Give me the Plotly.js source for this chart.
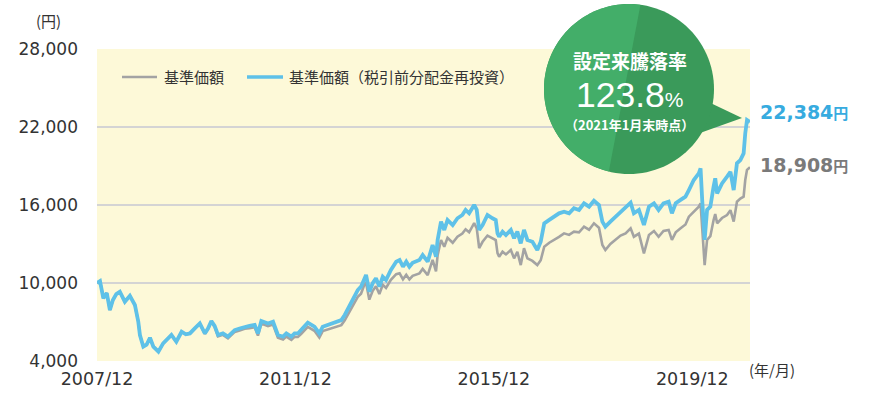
<!DOCTYPE html>
<html>
<head>
<meta charset="utf-8">
<script src="https://cdn.plot.ly/plotly-3.0.1.min.js"></script>
<style>
  html, body { margin: 0; padding: 0; background: #ffffff; }
  #chart { width: 869px; height: 397px; }
</style>
</head>
<body>
<div id="chart"></div>
<script>
// ---- Data ----
const dates = [
  '2007-12-01','2007-12-23','2008-01-17','2008-02-11','2008-03-05','2008-03-27','2008-04-21','2008-05-17','2008-06-23','2008-07-30',
  '2008-09-05','2008-09-30','2008-10-12','2008-11-06','2008-11-30','2008-12-25','2009-01-19','2009-02-25','2009-04-01','2009-05-01',
  '2009-06-01','2009-07-07','2009-08-15','2009-09-15','2009-10-15','2009-11-20','2009-12-27','2010-02-02','2010-02-25','2010-03-22',
  '2010-04-15','2010-05-10','2010-06-15','2010-07-22','2010-09-10','2010-10-16','2010-11-22','2010-12-28','2011-02-04','2011-02-28',
  '2011-03-25','2011-05-13','2011-06-19','2011-07-25','2011-09-01','2011-09-25','2011-11-01','2011-11-25','2011-12-19','2012-01-13',
  '2012-03-01','2012-04-19','2012-05-25','2012-06-19','2012-07-25','2012-09-15','2012-11-03','2012-11-28','2012-12-22','2013-01-28',
  '2013-03-04','2013-03-28','2013-04-22','2013-05-04','2013-05-28','2013-06-22','2013-07-16','2013-08-10','2013-09-04','2013-09-28',
  '2013-11-03','2013-12-12','2014-01-06','2014-01-31','2014-02-24','2014-03-19','2014-04-12','2014-06-01','2014-06-25','2014-08-01',
  '2014-09-06','2014-10-01','2014-10-13','2014-11-07','2014-12-01','2014-12-25','2015-02-01','2015-03-08','2015-04-13','2015-05-07',
  '2015-06-02','2015-07-09','2015-07-28','2015-08-15','2015-09-09','2015-10-15','2015-11-21','2015-12-15','2015-12-28','2016-01-09',
  '2016-02-03','2016-02-28','2016-04-04','2016-04-28','2016-05-22','2016-06-16','2016-07-10','2016-08-04','2016-09-10','2016-10-16',
  '2016-11-10','2016-12-06','2017-01-12','2017-02-18','2017-03-25','2017-05-01','2017-06-07','2017-07-13','2017-08-19','2017-09-25',
  '2017-11-01','2017-12-07','2018-01-13','2018-02-07','2018-03-01','2018-04-07','2018-05-15','2018-06-21','2018-07-28','2018-09-03',
  '2018-09-27','2018-11-03','2018-12-10','2019-01-16','2019-02-22','2019-03-28','2019-05-03','2019-06-10','2019-07-04','2019-08-01',
  '2019-09-06','2019-10-12','2019-11-06','2019-12-12','2020-01-18','2020-01-31','2020-02-12','2020-03-01','2020-03-19','2020-04-12',
  '2020-05-06','2020-05-18','2020-06-01','2020-07-07','2020-08-13','2020-09-07','2020-10-01','2020-10-25','2020-11-19','2020-12-13',
  '2020-12-25','2021-01-07','2021-01-29'
];
// 基準価額（税引前分配金再投資）
const navReinvested = [
  10000,10150,8820,9230,7920,8690,9150,9330,8560,9020,
  8310,7020,6000,5100,5250,5790,5100,4720,5360,5650,
  6000,5480,6250,6050,6120,6510,6890,6120,6500,7080,
  6700,6000,6120,5870,6380,6500,6640,6700,6770,6120,
  7080,6890,7020,6000,5870,6120,5870,6120,6120,6380,
  6950,6640,6120,6640,6770,6950,7150,7540,8050,8820,
  9460,9720,10480,10620,9330,9980,10360,9720,10480,10230,
  11000,11640,11770,11250,11640,11250,11560,11770,12150,11640,
  12920,12020,13310,14720,14080,14850,14460,14980,15230,15620,
  15360,16000,15620,14080,14460,15230,14980,14850,13820,13560,
  13950,13690,14080,13440,13950,13050,14080,13310,13170,12540,
  13170,14590,14850,15100,15360,15480,15360,15750,15620,16130,
  15870,16330,16000,14720,14330,14720,15100,15480,15870,16180,
  15360,15620,14460,15870,16130,15620,16130,16250,15360,16130,
  16390,16640,17150,17920,18440,18820,16390,13310,15620,15870,
  17410,18050,16890,17660,18180,18560,17150,19210,19460,19970,
  21510,22540,22384
];
// 基準価額
const navBasic = [
  10000,10150,8820,9230,7920,8690,9150,9330,8560,9020,
  8310,7020,6000,5100,5250,5790,5100,4720,5360,5650,
  6000,5480,6250,6050,6120,6500,6870,6090,6460,7020,
  6630,5900,6010,5750,6240,6350,6480,6530,6590,5950,
  6880,6680,6800,5790,5650,5880,5630,5860,5850,6090,
  6620,6320,5800,6300,6420,6590,6760,7130,7610,8330,
  8930,9180,9890,10020,8720,9400,9750,9150,9860,9620,
  10250,10680,10750,10280,10630,10270,10550,10740,11080,10610,
  11780,10900,12130,13310,12790,13480,13100,13560,13800,14130,
  13900,14610,14200,12690,13170,13650,13400,13300,12300,12020,
  12410,12200,12540,11900,12400,11380,12670,11900,11700,11380,
  11750,12790,13100,13310,13550,13820,13700,13950,13900,14330,
  14100,14590,14250,12920,12540,13000,13310,13650,13820,14210,
  13560,13800,12280,13690,14000,13560,14000,14080,13310,13900,
  14210,14500,15100,15500,15870,16130,14000,11380,13310,13600,
  14850,15300,14590,15000,15230,15600,14720,16250,16500,16640,
  17920,18700,18908
];
const traceNames = ['基準価額', '基準価額（税引前分配金再投資）'];
const tickDates = ['2007-12-01', '2011-12-01', '2015-12-01', '2019-12-01'];
const tickLabels = ['2007/12', '2011/12', '2015/12', '2019/12'];
const yTicks = [4000, 10000, 16000, 22000, 28000];
const endLabelReinvested = '22,384';
const endLabelBasic = '18,908';
const bubbleTitle = '設定来騰落率';
const bubbleValue = '123.8';
const bubbleNote = '（2021年1月末時点）';

// ---- Layout geometry ----
const W = 869, H = 397;
const M = { l: 97, r: 119, t: 49, b: 36 };
const PW = W - M.l - M.r, PH = H - M.t - M.b;
const px = x => (x - M.l) / PW;      // pixel x -> paper x
const py = y => (M.t + PH - y) / PH; // pixel y -> paper y

const FONT = "'Noto Sans CJK JP', 'Noto Sans', sans-serif";
const NUMFONT = "'DejaVu Sans', 'Noto Sans CJK JP', sans-serif";
const BIGFONT = "'Liberation Sans', 'Noto Sans CJK JP', sans-serif";
const BLUE = '#5ec1e8';
const GRAY = '#a3a3a3';
const GREEN_L = '#43ae69';
const GREEN_D = '#3a9a5a';

// Bubble (circle split in two tones + pointer)
const cx = 629, cy = 89, r = 85;
function circlePath(a0, a1, n) {
  const pts = [];
  for (let i = 0; i <= n; i++) {
    const a = a0 + (a1 - a0) * i / n;
    pts.push([cx + r * Math.cos(a), cy + r * Math.sin(a)]);
  }
  return pts;
}
function toPath(pts) {
  return 'M ' + pts.map(p => px(p[0]).toFixed(5) + ',' + py(p[1]).toFixed(5)).join(' L ') + ' Z';
}
const full = circlePath(0, Math.PI * 2, 120);
const aTop = Math.atan2(8 - cy, 640 - cx);
const aBot = Math.atan2(175 - cy, 608 - cx);
const leftPts = circlePath(aTop, aBot - 2 * Math.PI, 90);
const pointer = [[700, 98], [742, 118], [700, 133]];

const shapes = [
  { type: 'path', xref: 'paper', yref: 'paper', path: toPath(pointer), fillcolor: GREEN_D, line: { width: 0 } },
  { type: 'path', xref: 'paper', yref: 'paper', path: toPath(full), fillcolor: GREEN_D, line: { width: 0 } },
  { type: 'path', xref: 'paper', yref: 'paper', path: toPath(leftPts), fillcolor: GREEN_L, line: { width: 0 } },
  // legend samples
  { type: 'line', xref: 'paper', yref: 'paper', x0: px(122), x1: px(157), y0: py(77), y1: py(77),
    line: { color: GRAY, width: 2.5 } },
  { type: 'line', xref: 'paper', yref: 'paper', x0: px(247), x1: px(283), y0: py(77), y1: py(77),
    line: { color: BLUE, width: 3.5 } }
];

const annotations = [
  { xref: 'paper', yref: 'paper', x: px(48), y: py(20), text: '(円)', showarrow: false,
    xanchor: 'center', yanchor: 'middle', font: { family: FONT, size: 15, color: '#333' } },
  { xref: 'paper', yref: 'paper', x: px(747), y: py(370), text: '(年/月)', showarrow: false,
    xanchor: 'left', yanchor: 'middle', font: { family: FONT, size: 15, color: '#333' } },
  // legend texts
  { xref: 'paper', yref: 'paper', x: px(162), y: py(76), text: traceNames[0], showarrow: false,
    xanchor: 'left', yanchor: 'middle', font: { family: FONT, size: 15, color: '#333' } },
  { xref: 'paper', yref: 'paper', x: px(287), y: py(76), text: traceNames[1], showarrow: false,
    xanchor: 'left', yanchor: 'middle', font: { family: FONT, size: 15, color: '#333' } },
  // end values
  { xref: 'paper', yref: 'paper', x: px(758), y: py(112),
    text: endLabelReinvested + "<span style='font-family:Noto Sans CJK JP;font-size:15px'>円</span>", showarrow: false,
    xanchor: 'left', yanchor: 'middle', font: { family: NUMFONT, size: 19, color: '#37abdf', weight: 700 } },
  { xref: 'paper', yref: 'paper', x: px(758), y: py(165),
    text: endLabelBasic + "<span style='font-family:Noto Sans CJK JP;font-size:15px'>円</span>", showarrow: false,
    xanchor: 'left', yanchor: 'middle', font: { family: NUMFONT, size: 19, color: '#7a7a7a', weight: 700 } },
  // bubble texts
  { xref: 'paper', yref: 'paper', x: px(630), y: py(60.5), text: bubbleTitle, showarrow: false,
    xanchor: 'center', yanchor: 'middle', font: { family: FONT, size: 19, color: '#ffffff', weight: 700 } },
  { xref: 'paper', yref: 'paper', x: px(630), y: py(94.5),
    text: bubbleValue + "<span style='font-size:21px'>%</span>", showarrow: false,
    xanchor: 'center', yanchor: 'middle', font: { family: BIGFONT, size: 35.5, color: '#ffffff', weight: 400 } },
  { xref: 'paper', yref: 'paper', x: px(629), y: py(124.5), text: bubbleNote, showarrow: false,
    xanchor: 'center', yanchor: 'middle', font: { family: FONT, size: 13, color: '#ffffff', weight: 600 } }
];

const traces = [
  { type: 'scatter', mode: 'lines', x: dates, y: navBasic, name: traceNames[0],
    line: { color: GRAY, width: 2.6 }, hoverinfo: 'skip' },
  { type: 'scatter', mode: 'lines', x: dates, y: navReinvested, name: traceNames[1],
    line: { color: BLUE, width: 3.8 }, hoverinfo: 'skip' }
];

const layout = {
  width: W, height: H,
  margin: M,
  paper_bgcolor: '#ffffff',
  plot_bgcolor: '#fdf9d8',
  font: { family: FONT, size: 15, color: '#333' },
  showlegend: false,
  xaxis: {
    type: 'date', range: ['2007-12-01', '2021-01-29'],
    tickmode: 'array', tickvals: tickDates, ticktext: tickLabels,
    showgrid: false, zeroline: false, showline: false, ticks: '',
    ticklabelstandoff: 5,
    tickfont: { family: NUMFONT, size: 17.5, color: '#333' }
  },
  yaxis: {
    range: [4000, 28000], tickmode: 'array', tickvals: yTicks, tickformat: ',d',
    showgrid: true, gridcolor: '#d4d4d4', gridwidth: 1.2, zeroline: false, showline: false, ticks: '',
    ticklabelstandoff: 18,
    tickfont: { family: NUMFONT, size: 17, color: '#333' }
  },
  shapes: shapes,
  annotations: annotations
};

Plotly.newPlot('chart', traces, layout, { displayModeBar: false, staticPlot: true });
</script>
</body>
</html>
